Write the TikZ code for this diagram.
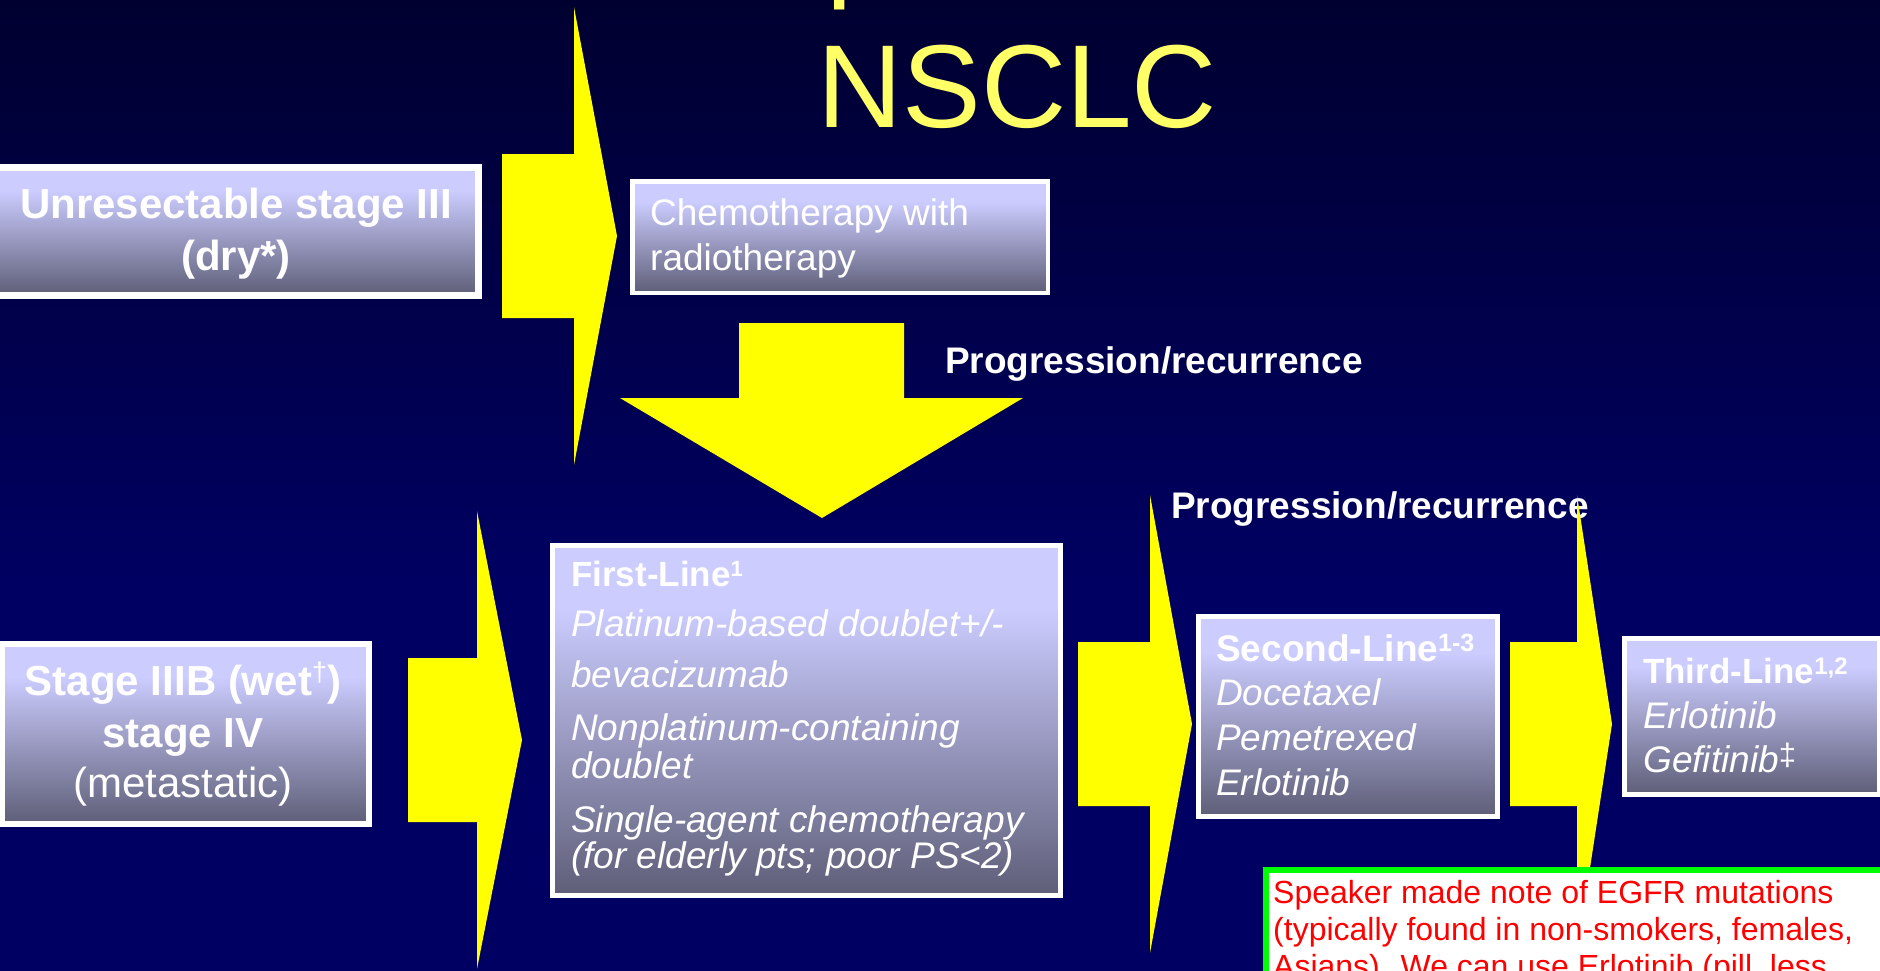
\documentclass[tikz,border=0pt]{standalone}
\usepackage{fontspec}
\setmainfont{Liberation Sans}
\definecolor{bgtop}{RGB}{0,0,48}
\definecolor{bgbot}{RGB}{0,0,98}
\definecolor{gtop}{RGB}{204,204,255}
\definecolor{gbot}{RGB}{94,94,120}
\definecolor{titleyel}{RGB}{255,255,102}
\definecolor{arrowyel}{RGB}{255,255,0}
\definecolor{notegreen}{RGB}{0,255,0}
\definecolor{notered}{RGB}{255,0,0}
\pgfdeclareverticalshading{boxgrad}{100bp}{color(0bp)=(gbot); color(25bp)=(gbot); color(66bp)=(gtop); color(100bp)=(gtop)}
\pgfdeclareverticalshading{bggrad}{100bp}{color(0bp)=(bgbot); color(45bp)=(bgbot); color(75bp)=(bgtop); color(100bp)=(bgtop)}
\newcommand{\fs}[1]{\fontsize{#1}{#1}\selectfont}
\newcommand{\supx}[3]{\raisebox{#1pt}{\fs{#2}#3}}
\newcommand{\harrow}[6]{%
  \fill[arrowfill] (#1,{#4-#5}) -- (#2,{#4-#5}) -- (#2,{#4-#6}) -- (#3,#4)
    -- (#2,{#4+#6}) -- (#2,{#4+#5}) -- (#1,{#4+#5}) -- cycle;}
\begin{document}
\begin{tikzpicture}[x=1pt,y=-1pt,
  arrowfill/.style={fill=arrowyel},
  gbox/.style={rectangle, inner sep=0pt, shade, shading=boxgrad, draw=white},
  wtxt/.style={inner sep=0pt, text=white, anchor=base west},
  ctxt/.style={inner sep=0pt, text=white, anchor=base},
  ntxt/.style={inner sep=0pt, text=notered, anchor=base west, font=\fs{32}}]
\useasboundingbox (0,0) rectangle (1880,970);
\clip (0,0) rectangle (1880,970);
\fill[shading=bggrad] (0,0) rectangle (1880,970);

% title
\node[inner sep=0pt, anchor=base west, text=titleyel, font=\fs{118}] (tp) at (826,-15) {p};
\node[inner sep=0pt, anchor=base west, text=titleyel, font=\fs{118}] (title) at (817,127) {NSCLC};

% boxes
\node[gbox, line width=7pt, minimum width=485pt, minimum height=128pt] (b1) at (236,231.5) {};
\node[gbox, line width=4.5pt, minimum width=415.5pt, minimum height=111.5pt] (chemo) at (840,237) {};
\node[gbox, line width=6pt, minimum width=367pt, minimum height=180pt] (stage) at (185.5,734) {};
\node[gbox, line width=5pt, minimum width=508pt, minimum height=350pt] (first) at (806.5,720.5) {};
\node[gbox, line width=5pt, minimum width=299pt, minimum height=200pt] (second) at (1348,716.5) {};
\node[gbox, line width=5pt, minimum width=255pt, minimum height=156pt] (third) at (1752,716.5) {};

% box texts
\node[ctxt, font=\fs{42}\bfseries] (b1a) at (236,218) {Unresectable stage III};
\node[ctxt, font=\fs{42}\bfseries] (b1b) at (236,270) {(dry*)};

\node[wtxt, font=\fs{37}] (c1) at (650,225) {Chemotherapy with};
\node[wtxt, font=\fs{37}] (c2) at (650,270) {radiotherapy};

\node[ctxt, font=\fs{42}\bfseries] (s1) at (183,695) {Stage IIIB (wet\supx{14}{27}{\mdseries †})};
\node[ctxt, font=\fs{42}\bfseries] (s2) at (183,747) {stage IV};
\node[ctxt, font=\fs{42}] (s3) at (183,797) {(metastatic)};

\node[wtxt, font=\fs{35}\bfseries] (f1) at (571,586) {First-Line\supx{10}{22}{1}};
\node[wtxt, font=\fs{37}\itshape] (f2) at (571,636) {Platinum-based doublet+/-};
\node[wtxt, font=\fs{37}\itshape] (f3) at (571,687) {bevacizumab};
\node[wtxt, font=\fs{37}\itshape] (f4) at (571,740) {Nonplatinum-containing};
\node[wtxt, font=\fs{37}\itshape] (f5) at (571,778) {doublet};
\node[wtxt, font=\fs{37}\itshape] (f6) at (571,832) {Single-agent chemotherapy};
\node[wtxt, font=\fs{37}\itshape] (f7) at (571,868) {(for elderly pts; poor PS<2)};

\node[wtxt, font=\fs{37}\bfseries] (sl1) at (1216,661) {Second-Line\supx{10}{25}{1-3}};
\node[wtxt, font=\fs{37}\itshape] (sl2) at (1216,705) {Docetaxel};
\node[wtxt, font=\fs{37}\itshape] (sl3) at (1216,750) {Pemetrexed};
\node[wtxt, font=\fs{37}\itshape] (sl4) at (1216,795) {Erlotinib};

\node[wtxt, font=\fs{35}\bfseries] (tl1) at (1643,683) {Third-Line\supx{9}{24}{1,2}};
\node[wtxt, font=\fs{37}\itshape] (tl2) at (1643,728) {Erlotinib};
\node[wtxt, font=\fs{37}\itshape] (tl3) at (1643,772) {Gefitinib\supx{7}{31}{\upshape ‡}};

% progression labels
\node[wtxt, font=\fs{37}\bfseries] (pr1) at (945,373) {Progression/recurrence};
\node[wtxt, font=\fs{37}\bfseries] (pr2) at (1171,518) {Progression/recurrence};

% block arrows
\harrow{502}{574}{617}{236}{82}{229}
\harrow{408}{477}{522}{740}{82}{229}
\harrow{1078}{1150}{1192}{724}{82}{229}
\harrow{1510}{1577}{1612}{724}{82}{229}
\fill[arrowfill] (739,323) -- (904,323) -- (904,398) -- (1023,398) -- (822,518)
  -- (620,398) -- (739,398) -- cycle;

% speaker note
\node[rectangle, inner sep=0pt, fill=white, draw=notegreen, line width=6pt,
  minimum width=631pt, minimum height=127pt] (note) at (1581.5,933.5) {};
\node[ntxt] (n1) at (1273,903) {Speaker made note of EGFR mutations};
\node[ntxt] (n2) at (1273,940) {(typically found in non-smokers, females,};
\node[ntxt] (n3) at (1273,977) {Asians). We can use Erlotinib (pill, less};
\end{tikzpicture}
\end{document}
